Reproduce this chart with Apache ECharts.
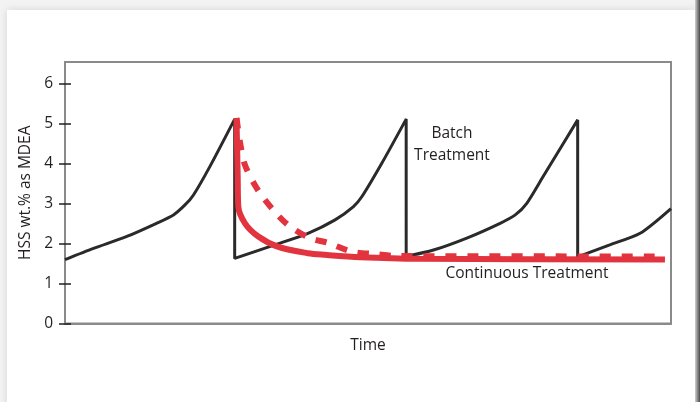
<!DOCTYPE html>
<html>
<head>
<meta charset="utf-8">
<script src="https://cdn.jsdelivr.net/npm/echarts@6/dist/echarts.min.js"></script>
<style>
html,body{margin:0;padding:0;background:#f3f3f3;}
#c{width:700px;height:402px;}
</style>
</head>
<body>
<div id="c"></div>
<script>
// Tick labels on the y axis
const yTicks = [0, 1, 2, 3, 4, 5, 6];
// Batch treatment (time, HSS wt.%) – saw-tooth profile
const batchTime = [0, 4.7, 10.2, 15.1, 17.9, 19.8, 21.2, 23.9, 28.0, 28.0, 34.6, 40.1, 44.5, 47.6, 49.0, 52.3, 56.3, 56.3, 60.8, 66.3, 71.8, 74.3, 76.2, 78.9, 84.6, 84.6, 89.9, 94.9, 100];
const batchHSS  = [1.60, 1.88, 2.18, 2.51, 2.72, 2.97, 3.22, 3.93, 5.12, 1.63, 1.97, 2.26, 2.59, 2.93, 3.18, 4.02, 5.12, 1.68, 1.84, 2.14, 2.51, 2.72, 3.01, 3.68, 5.10, 1.67, 1.97, 2.26, 2.88];
// Continuous treatment (solid)
const contTime = [28.3, 28.5, 28.6, 29.7, 31.9, 35.2, 40.1, 42.9, 48.7, 58.6, 99.0];
const contHSS  = [5.14, 3.68, 2.93, 2.51, 2.18, 1.92, 1.76, 1.72, 1.66, 1.62, 1.60];
// Continuous treatment alternative (dashed)
const dashTime = [28.3, 28.9, 29.7, 31.6, 34.1, 36.8, 40.4, 43.4, 47.3, 51.2, 55.0, 99.0];
const dashHSS  = [5.15, 4.52, 3.97, 3.40, 2.89, 2.47, 2.14, 2.02, 1.80, 1.74, 1.69, 1.68];

const pairs = (a, b) => a.map((v, i) => [v, b[i]]);
const FONT = "'Open Sans', sans-serif";
const FS = 15.5;
const TXT = '#231f20';
const chart = echarts.init(document.getElementById('c'), null, {renderer: 'canvas'});
const label = (text, x, y) => ({type: 'text', x: x, y: y, z: 10, silent: true,
  style: {text: text, font: FS + 'px ' + FONT, fill: TXT, align: 'center', verticalAlign: 'middle', textAlign: 'center', textVerticalAlign: 'middle'}});
chart.setOption({
  animation: false,
  backgroundColor: '#f3f3f3',
  graphic: [
    {type: 'rect', z: -10, shape: {x: 7, y: 10, width: 688, height: 400},
     style: {fill: '#ffffff', shadowBlur: 8, shadowColor: 'rgba(0,0,0,0.12)'}, silent: true},
    {type: 'rect', z: -9, shape: {x: 695, y: 0, width: 5, height: 402},
     style: {fill: new echarts.graphic.LinearGradient(0, 0, 1, 0, [{offset: 0, color: '#d0d0d0'}, {offset: 1, color: '#4a4a4a'}])}, silent: true},
    label('Batch', 452, 134),
    label('Treatment', 452, 156),
    label('Continuous Treatment', 527, 274)
  ],
  grid: {left: 65, top: 62, right: 29, bottom: 78.5, show: true, borderColor: '#8a8a8a', borderWidth: 2, backgroundColor: 'transparent'},
  xAxis: {
    type: 'value', min: 0, max: 100,
    name: 'Time', nameLocation: 'middle', nameGap: 14,
    nameTextStyle: {fontFamily: FONT, fontSize: FS, color: TXT, verticalAlign: 'top'},
    axisLine: {show: true, lineStyle: {color: '#8a8a8a', width: 2}},
    axisTick: {show: false}, axisLabel: {show: false}, splitLine: {show: false}
  },
  yAxis: [{
    type: 'value', min: 0, max: 6.55, interval: 1,
    name: 'HSS wt.% as MDEA', nameLocation: 'middle', nameGap: 27, nameRotate: 90,
    nameTextStyle: {fontFamily: FONT, fontSize: FS, color: TXT},
    axisLine: {show: true, lineStyle: {color: '#8a8a8a', width: 2}},
    axisTick: {show: true, length: 6, customValues: yTicks, lineStyle: {color: '#231f20', width: 1.5}},
    axisLabel: {margin: 12, fontFamily: FONT, fontSize: FS, color: TXT, customValues: yTicks,
      formatter: v => (yTicks.indexOf(v) >= 0 ? String(v) : '')},
    splitLine: {show: false}
  }, {
    type: 'value', min: 0, max: 6.55, interval: 1, position: 'left',
    axisLine: {show: false},
    axisTick: {show: true, inside: true, length: 6, customValues: yTicks, lineStyle: {color: '#231f20', width: 1.5}},
    axisLabel: {show: false}, splitLine: {show: false}
  }],
  series: [
    {type: 'line', name: 'Batch Treatment', data: pairs(batchTime, batchHSS), showSymbol: false, smooth: 0.25,
     lineStyle: {color: '#2a2a2a', width: 3}, z: 2},
    {type: 'line', name: 'Continuous dashed', data: pairs(dashTime, dashHSS), showSymbol: false, smooth: 0.3,
     lineStyle: {color: '#e2343e', width: 6, type: [11, 11], cap: 'butt'}, z: 3},
    {type: 'line', name: 'Continuous Treatment', data: pairs(contTime, contHSS), showSymbol: false, smooth: 0.3,
     lineStyle: {color: '#e2343e', width: 6}, z: 4}
  ]
});
</script>
</body>
</html>
